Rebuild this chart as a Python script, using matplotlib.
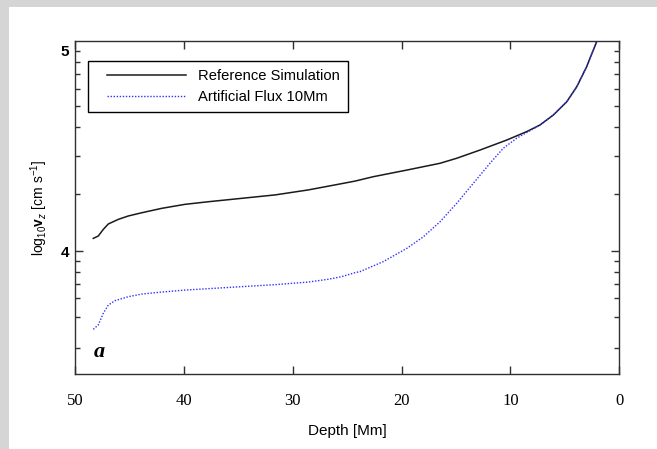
import numpy as np
import matplotlib
matplotlib.use('Agg')
import matplotlib.pyplot as plt
from matplotlib.legend_handler import HandlerLine2D
from matplotlib.patches import Rectangle

# ---- data ----
depth_ref = [48.32, 47.86, 47.40, 46.94, 46.02, 45.10, 43.87, 42.04, 39.90, 37.76,
             34.69, 31.63, 28.57, 26.12, 24.28, 22.60, 19.53, 16.47, 14.94, 12.80,
             10.34, 8.51, 7.29, 6.06, 4.83, 3.91, 3.00, 2.39, 2.02]
logv_ref = [4.063, 4.075, 4.108, 4.135, 4.158, 4.175, 4.191, 4.213, 4.233, 4.246,
            4.263, 4.280, 4.305, 4.330, 4.349, 4.371, 4.404, 4.438, 4.463, 4.504,
            4.554, 4.596, 4.629, 4.679, 4.745, 4.820, 4.920, 5.003, 5.053]

depth_art = [48.32, 47.86, 47.40, 46.94, 46.33, 45.10, 43.87, 42.04, 39.90, 37.76,
             34.69, 31.63, 28.57, 26.73, 25.50, 24.28, 23.82, 21.68, 19.53, 18.00,
             16.47, 14.94, 13.41, 11.88, 10.66, 9.43, 8.20, 7.29, 6.06, 4.83,
             3.91, 3.00, 2.39, 2.02]
logv_art = [3.609, 3.631, 3.689, 3.730, 3.752, 3.772, 3.785, 3.795, 3.805, 3.812,
            3.822, 3.832, 3.845, 3.859, 3.872, 3.892, 3.897, 3.947, 4.013, 4.071,
            4.146, 4.238, 4.338, 4.438, 4.513, 4.563, 4.601, 4.629, 4.679, 4.745,
            4.820, 4.920, 5.003, 5.053]

series_labels = ['Reference Simulation', 'Artificial Flux 10Mm']
x_ticks = [50, 40, 30, 20, 10, 0]
y_major = [4, 5]
y_major_labels = ['4', '5']
y_minor = [4.945, 4.885, 4.809, 4.722, 4.617, 4.476, 4.285,
           3.950, 3.895, 3.835, 3.767, 3.669, 3.514]

plt.rcParams['mathtext.fontset'] = 'custom'
plt.rcParams['mathtext.rm'] = 'Liberation Sans'
plt.rcParams['mathtext.bf'] = 'Liberation Sans:bold'
plt.rcParams['mathtext.it'] = 'Liberation Sans:italic'

W, H = 657, 449
fig = plt.figure(figsize=(W / 100, H / 100), dpi=100)
fig.patch.set_facecolor('white')
fig.patches.append(Rectangle((0, 0), 9 / W, 1, transform=fig.transFigure,
                             facecolor='#d5d5d5', edgecolor='none', zorder=-1))
fig.patches.append(Rectangle((0, 1 - 7 / H), 1, 7 / H, transform=fig.transFigure,
                             facecolor='#d5d5d5', edgecolor='none', zorder=-1))

ax = fig.add_axes([75 / W, 1 - 374 / H, 544.3 / W, 333.3 / H])
ax.plot(depth_ref, logv_ref, color='#1a1a1a', lw=1.1, label=series_labels[0])
ax.plot(depth_art, logv_art, color='#3030ff', lw=1.0, ls=(0, (1, 1.2)),
        label=series_labels[1])

ax.set_xlim(50, 0)
ax.set_ylim(3.386, 5.050)

for s in ax.spines.values():
    s.set_linewidth(1.0)
    s.set_color('#303030')

ax.set_xticks(x_ticks)
ax.set_xticklabels([str(t) for t in x_ticks], fontfamily='Liberation Serif', fontsize=12)
ax.set_yticks(y_major)
ax.set_yticklabels(y_major_labels, fontfamily='Liberation Sans', fontsize=11,
                   fontweight='bold')
ax.set_yticks(y_minor, minor=True)
ax.tick_params(axis='x', which='major', direction='in', top=True, bottom=True,
               length=6, width=1, color='#303030', pad=14)
ax.tick_params(axis='y', which='major', direction='in', left=True, right=True,
               length=6, width=1, color='#303030', pad=4)
ax.tick_params(axis='y', which='minor', direction='in', left=True, right=True,
               length=3.5, width=1, color='#303030')
ax.tick_params(axis='x', which='minor', bottom=False, top=False)
mt = ax.yaxis.get_major_ticks()
mt[1].tick1line.set_markersize(3.5)
mt[1].tick2line.set_markersize(3.5)

ax.set_xlabel('Depth [Mm]', fontfamily='Liberation Sans', fontsize=11)
ax.xaxis.set_label_coords(0.5, -0.150)
ax.set_ylabel(r'log$_{10}$$\mathbf{v}_z$ [cm s$^{-1}$]', fontfamily='Liberation Sans',
              fontsize=10)
ax.yaxis.set_label_coords(-0.046, 0.5)

ax.text(0.035, 0.050, 'a', transform=ax.transAxes, fontfamily='Liberation Serif',
        fontstyle='italic', fontweight='bold', fontsize=16, va='baseline', ha='left')

fs = 10.6
fpx = fs * 100 / 72
leg = ax.legend(loc='upper left', bbox_to_anchor=((88 - 75) / 544.3, 1 - 20 / 333.3),
                borderaxespad=0, fancybox=False, shadow=False, framealpha=1,
                edgecolor='black', prop={'family': 'Liberation Sans', 'size': fs},
                borderpad=8.3 / fpx, handlelength=(79 + 20.8) / fpx,
                handletextpad=0.1, labelspacing=0.455,
                handler_map={matplotlib.lines.Line2D:
                             HandlerLine2D(numpoints=2, marker_pad=10.4 / fpx)})
leg.get_frame().set_linewidth(1.0)

fig.savefig('out.png', dpi=100, facecolor='white')
